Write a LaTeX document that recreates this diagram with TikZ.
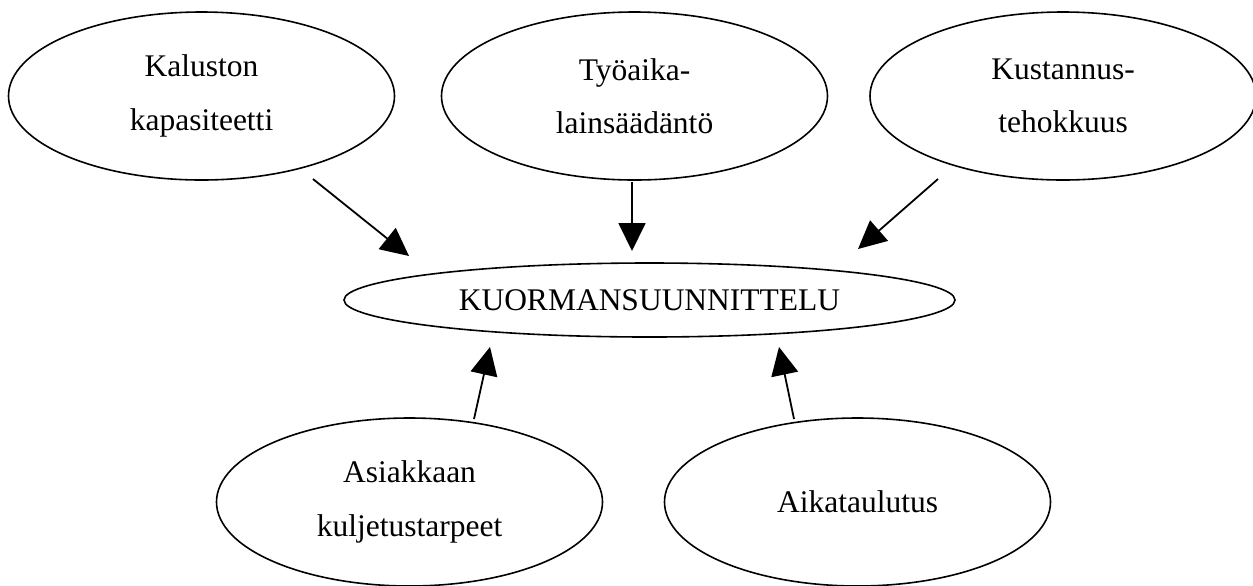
\documentclass[tikz,border=0pt]{standalone}
\usepackage{fontspec}
\setmainfont{Liberation Serif}
\usetikzlibrary{shapes.geometric,arrows.meta}

\tikzset{
  tekijä/.style={draw, line width=0.8pt, shape=ellipse, inner sep=0pt,
    minimum width=193pt, minimum height=84pt, align=center,
    font=\fontsize{15.75pt}{26.7pt}\selectfont},
  nuoli/.style={line width=0.9pt, -{Triangle[length=14pt,width=13.5pt]}}
}

\begin{document}
\begin{tikzpicture}[x=0.5pt, y=-0.5pt]
  \useasboundingbox (0,0) rectangle (1253,585);
  % ylarivi
  \node[tekijä] (kalusto) at (201.5,96) {Kaluston\\kapasiteetti};
  \node[tekijä] (tyoaika) at (634.5,96) {Työaika-\\lainsäädäntö};
  \node[tekijä] (kustannus) at (1063,96) {Kustannus-\\tehokkuus};
  % keskella
  \node[tekijä, minimum width=305.5pt, minimum height=37pt] (kuorma) at (649.5,300) {KUORMANSUUNNITTELU};
  % alarivi
  \node[tekijä] (asiakas) at (409.5,502) {Asiakkaan\\kuljetustarpeet};
  \node[tekijä] (aikataulu) at (857.5,502) {Aikataulutus};
  % nuolten paat
  \coordinate (kalusto-a) at (313,179);
  \coordinate (kalusto-b) at (409,256);
  \coordinate (tyoaika-a) at (632,182);
  \coordinate (tyoaika-b) at (632,251);
  \coordinate (kustannus-a) at (938,179);
  \coordinate (kustannus-b) at (858,249);
  \coordinate (asiakas-a) at (474,419);
  \coordinate (asiakas-b) at (490,347);
  \coordinate (aikataulu-a) at (794,419);
  \coordinate (aikataulu-b) at (779,347);
  % nuolet
  \draw[nuoli] (kalusto-a) -- (kalusto-b);
  \draw[nuoli] (tyoaika-a) -- (tyoaika-b);
  \draw[nuoli] (kustannus-a) -- (kustannus-b);
  \draw[nuoli] (asiakas-a) -- (asiakas-b);
  \draw[nuoli] (aikataulu-a) -- (aikataulu-b);
\end{tikzpicture}
\end{document}
